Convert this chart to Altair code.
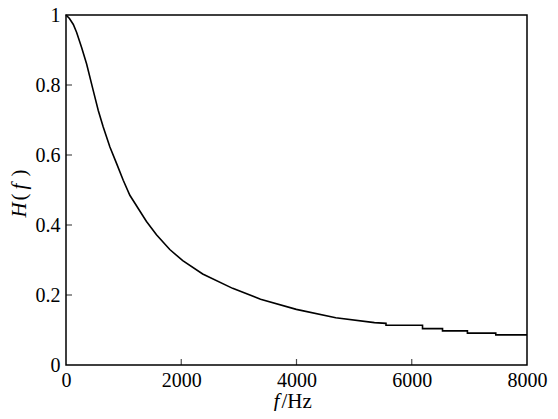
import altair as alt
import pandas as pd

# Data
freq = [0, 60, 127, 185, 271, 358, 473, 560, 646, 762, 877, 993, 1108, 1281, 1397,
        1570, 1801, 2026, 2372, 2892, 3376, 3997, 4681, 5353, 5553, 5553, 6187, 6187,
        6534, 6534, 6966, 6966, 7458, 7458, 8000]
resp = [1.0, 0.99, 0.973, 0.950, 0.907, 0.860, 0.784, 0.727, 0.680, 0.623, 0.576, 0.528,
        0.485, 0.440, 0.410, 0.372, 0.330, 0.298, 0.260, 0.219, 0.188, 0.159, 0.135, 0.121,
        0.119, 0.1136, 0.1136, 0.104, 0.104, 0.0975, 0.0975, 0.091, 0.091, 0.086, 0.086]
x_tick_labels = [0, 2000, 4000, 6000, 8000]
y_tick_labels = [0, 0.2, 0.4, 0.6, 0.8, 1]
inner_x_ticks = [2000, 4000, 6000]
inner_y_ticks = [0.2, 0.4, 0.6, 0.8]

FONT = "Liberation Serif"
df = pd.DataFrame({"f": freq, "H": resp})
xs = alt.Scale(domain=[0, 8000], nice=False, zero=False)
ys = alt.Scale(domain=[0, 1], nice=False, zero=False)


def piece(orient, text, italic, tx, ty):
    kw = dict(orient=orient, title=text, labels=False, ticks=False, domain=False, grid=False,
              titleFont=FONT, titleFontSize=21, titleFontWeight="normal",
              titleFontStyle="italic" if italic else "normal", titleColor="black",
              titleX=tx, titleY=ty, titleAlign="left", titleBaseline="alphabetic")
    if orient == "left":
        kw["titleAngle"] = 270
    return alt.Axis(**kw)


x_main = alt.Axis(orient="bottom", values=x_tick_labels, format="d", grid=False,
                  domain=False, ticks=False, tickSize=0, labelFont=FONT, labelFontSize=20,
                  labelColor="black", labelPadding=21, labelBaseline="alphabetic",
                  labelFlush=False, labelOverlap=False,
                  title="f", titleFont=FONT, titleFontSize=21, titleFontWeight="normal",
                  titleFontStyle="italic", titleColor="black", titleX=207, titleY=42,
                  titleAlign="left", titleBaseline="alphabetic")
y_main = alt.Axis(orient="left", values=y_tick_labels, format="~g", grid=False,
                  domain=False, ticks=False, tickSize=0, labelFont=FONT, labelFontSize=20,
                  labelColor="black", labelPadding=6, labelBaseline="middle",
                  labelFlush=False, labelOverlap=False,
                  title="H", titleFont=FONT, titleFontSize=21, titleFontWeight="normal",
                  titleFontStyle="italic", titleColor="black", titleX=-41, titleY=202,
                  titleAlign="left", titleBaseline="alphabetic", titleAngle=270)

line = alt.Chart(df).mark_line(color="black", strokeWidth=1.6).encode(
    x=alt.X("f:Q", scale=xs, axis=x_main),
    y=alt.Y("H:Q", scale=ys, axis=y_main),
)

xt = alt.Chart(pd.DataFrame({"f": inner_x_ticks})).mark_tick(
    orient="vertical", size=6, thickness=1.2, color="black", yOffset=-3
).encode(
    x=alt.X("f:Q", scale=xs, axis=piece("bottom", "/Hz", False, 215, 42)),
    y=alt.YDatum(0, type="quantitative", scale=ys, axis=piece("left", "(", False, -41, 185)),
)

yt = alt.Chart(pd.DataFrame({"H": inner_y_ticks})).mark_tick(
    orient="horizontal", size=6, thickness=1.2, color="black", xOffset=3
).encode(
    y=alt.Y("H:Q", scale=ys, axis=piece("left", "f", True, -41, 174)),
    x=alt.XDatum(0, type="quantitative", scale=xs, axis=None),
)

ghost = alt.Chart(df).mark_line(opacity=0).encode(
    x=alt.X("f:Q", scale=xs, axis=None),
    y=alt.Y("H:Q", scale=ys, axis=piece("left", ")", False, -41, 161)),
)

chart = alt.layer(line, xt, yt, ghost).resolve_axis(
    x="independent", y="independent"
).properties(
    width=461, height=350, autosize="none",
    padding={"left": 58, "top": 7, "right": 23, "bottom": 46},
).configure(font=FONT).configure_axis(
    labelFont=FONT, titleFont=FONT
).configure_view(stroke="black", strokeWidth=1.5)

chart.save("out.html", embed_options={"renderer": "svg", "actions": False})
